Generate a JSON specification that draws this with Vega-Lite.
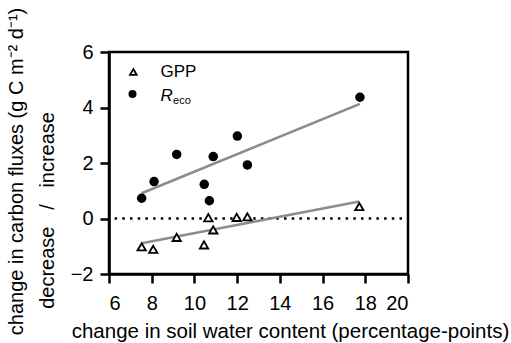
{
  "$schema": "https://vega.github.io/schema/vega-lite/v6.json",
  "width": 299,
  "height": 222,
  "autosize": {"type": "none"},
  "padding": {"left": 109, "top": 52, "right": 103, "bottom": 69},
  "background": "white",
  "config": {
    "view": {"stroke": "black", "strokeWidth": 2.5},
    "font": "Liberation Sans",
    "axis": {
      "domainColor": "black",
      "domainWidth": 2.5,
      "tickColor": "black",
      "tickWidth": 2.5,
      "tickSize": 9,
      "grid": false,
      "labelColor": "black",
      "labelFont": "Liberation Sans",
      "labelFontSize": 20,
      "titleColor": "black",
      "titleFont": "Liberation Sans",
      "titleFontWeight": "normal"
    }
  },
  "datasets": {
    "fluxes": [
      {"series": "GPP", "swc": 7.53, "flux": -1.02},
      {"series": "GPP", "swc": 8.07, "flux": -1.11},
      {"series": "GPP", "swc": 9.17, "flux": -0.68},
      {"series": "GPP", "swc": 10.45, "flux": -0.95},
      {"series": "GPP", "swc": 10.65, "flux": 0.03},
      {"series": "GPP", "swc": 10.88, "flux": -0.41},
      {"series": "GPP", "swc": 11.98, "flux": 0.04},
      {"series": "GPP", "swc": 12.48, "flux": 0.06},
      {"series": "GPP", "swc": 17.72, "flux": 0.43},
      {"series": "Reco", "swc": 7.53, "flux": 0.73},
      {"series": "Reco", "swc": 8.11, "flux": 1.33},
      {"series": "Reco", "swc": 9.17, "flux": 2.31},
      {"series": "Reco", "swc": 10.46, "flux": 1.23},
      {"series": "Reco", "swc": 10.70, "flux": 0.64},
      {"series": "Reco", "swc": 10.88, "flux": 2.23},
      {"series": "Reco", "swc": 12.01, "flux": 2.97},
      {"series": "Reco", "swc": 12.48, "flux": 1.93},
      {"series": "Reco", "swc": 17.75, "flux": 4.37}
    ],
    "fits": [
      {"series": "GPP", "swc": 7.53, "flux": -0.89},
      {"series": "GPP", "swc": 17.72, "flux": 0.61},
      {"series": "Reco", "swc": 7.53, "flux": 0.91},
      {"series": "Reco", "swc": 17.75, "flux": 4.13}
    ],
    "one": [{}]
  },
  "layer": [
    {
      "data": {"name": "one"},
      "mark": {"type": "rule", "color": "black", "strokeWidth": 2.5, "strokeDash": [2.5, 5.2], "strokeDashOffset": 1.7},
      "encoding": {"y": {"datum": 0, "type": "quantitative"}}
    },
    {
      "data": {"name": "fits"},
      "mark": {"type": "line", "color": "#8c8c8c", "strokeWidth": 2.6},
      "encoding": {
        "x": {
          "field": "swc", "type": "quantitative",
          "scale": {"domain": [6, 20], "nice": false, "zero": false},
          "axis": {
            "values": [6, 8, 10, 12, 14, 16, 18, 20],
            "labelPadding": 10,
            "title": "change in soil water content (percentage-points)",
            "titleFontSize": 20.5,
            "titleX": 181,
            "titleY": 63,
            "titleAlign": "center",
            "titleBaseline": "alphabetic"
          }
        },
        "y": {
          "field": "flux", "type": "quantitative",
          "scale": {"domain": [-2, 6], "nice": false, "zero": false},
          "axis": {
            "values": [-2, 0, 2, 4, 6],
            "labelPadding": 7,
            "title": [
              "change in carbon fluxes (g C m\u207b\u00b2 d\u207b\u00b9)",
              "decrease\u00a0\u00a0\u00a0/\u00a0\u00a0\u00a0increase\u00a0\u00a0\u00a0\u00a0\u00a0\u00a0\u00a0\u00a0\u00a0\u00a0\u00a0\u00a0\u00a0\u00a0\u200b"
            ],
            "titleFontSize": 20,
            "titleAngle": 270,
            "titleX": -87,
            "titleY": 119,
            "titleAlign": "center",
            "titleBaseline": "alphabetic",
            "titleLineHeight": 31
          }
        },
        "detail": {"field": "series"}
      }
    },
    {
      "data": {"name": "fluxes"},
      "transform": [{"filter": "datum.series === 'Reco'"}],
      "mark": {"type": "point", "shape": "circle", "filled": true, "color": "black", "size": 90, "opacity": 1},
      "encoding": {
        "x": {"field": "swc", "type": "quantitative"},
        "y": {"field": "flux", "type": "quantitative"}
      }
    },
    {
      "data": {"name": "fluxes"},
      "transform": [{"filter": "datum.series === 'GPP'"}],
      "mark": {"type": "point", "shape": "triangle-up", "filled": true, "fill": "white", "stroke": "black", "strokeWidth": 1.8, "size": 70, "opacity": 1},
      "encoding": {
        "x": {"field": "swc", "type": "quantitative"},
        "y": {"field": "flux", "type": "quantitative"}
      }
    },
    {
      "data": {"name": "one"},
      "mark": {"type": "point", "shape": "triangle-up", "filled": true, "fill": "white", "stroke": "black", "strokeWidth": 1.8, "size": 45, "opacity": 1},
      "encoding": {"x": {"datum": 7.14, "type": "quantitative"}, "y": {"datum": 5.28, "type": "quantitative"}}
    },
    {
      "data": {"name": "one"},
      "mark": {"type": "point", "shape": "circle", "filled": true, "color": "black", "size": 64, "opacity": 1},
      "encoding": {"x": {"datum": 7.1, "type": "quantitative"}, "y": {"datum": 4.49, "type": "quantitative"}}
    },
    {
      "data": {"name": "one"},
      "mark": {"type": "text", "text": "GPP", "font": "Liberation Sans", "fontSize": 17, "color": "black", "align": "left", "baseline": "alphabetic"},
      "encoding": {"x": {"datum": 8.41, "type": "quantitative"}, "y": {"datum": 5.09, "type": "quantitative"}}
    },
    {
      "data": {"name": "one"},
      "mark": {"type": "text", "text": "R", "font": "Liberation Sans", "fontSize": 17, "fontStyle": "italic", "color": "black", "align": "left", "baseline": "alphabetic"},
      "encoding": {"x": {"datum": 8.41, "type": "quantitative"}, "y": {"datum": 4.22, "type": "quantitative"}}
    },
    {
      "data": {"name": "one"},
      "mark": {"type": "text", "text": "eco", "font": "Liberation Sans", "fontSize": 11, "color": "black", "align": "left", "baseline": "alphabetic"},
      "encoding": {"x": {"datum": 9.0, "type": "quantitative"}, "y": {"datum": 4.11, "type": "quantitative"}}
    }
  ]
}
